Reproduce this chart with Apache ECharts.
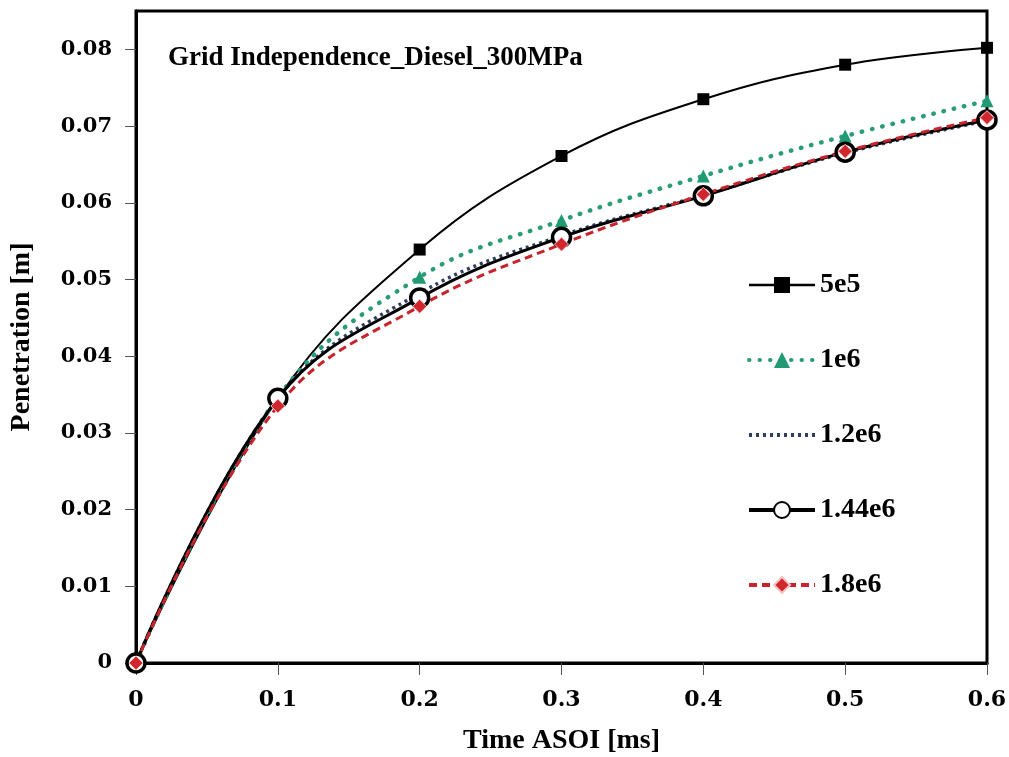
<!DOCTYPE html>
<html>
<head>
<meta charset="utf-8">
<title>Grid Independence</title>
<script src="https://cdn.jsdelivr.net/npm/echarts@6/dist/echarts.min.js"></script>
<style>
  html, body { margin: 0; padding: 0; background: #fff; }
  #main { width: 1009px; height: 757px; }
</style>
</head>
<body>
<div id="main"></div>
<script>
// time after start of injection [ms]
const timeASOI = [0, 0.1, 0.2, 0.3, 0.4, 0.5, 0.6]
// penetration [m] per mesh size
const pen5e5 = [0, 0.0345, 0.0539, 0.0661, 0.0735, 0.0780, 0.0802]
const pen1e6 = [0, 0.0346, 0.0503, 0.0577, 0.0635, 0.0687, 0.0733]
const pen12e6 = [0, 0.0345, 0.0482, 0.0557, 0.0610, 0.0665, 0.0707]
const pen144e6 = [0, 0.0345, 0.0476, 0.0555, 0.0609, 0.0666, 0.0708]
const pen18e6 = [0, 0.0335, 0.0465, 0.0546, 0.0611, 0.0667, 0.0711]
const seriesNames = ['5e5', '1e6', '1.2e6', '1.44e6', '1.8e6']
const yTicks = [0, 0.01, 0.02, 0.03, 0.04, 0.05, 0.06, 0.07, 0.08]

const serif = 'Liberation Serif'
const tickFont = 'DejaVu Serif'

function pairs (ys) {
  return timeASOI.map((x, i) => [x, ys[i]])
}

const myChart = echarts.init(document.getElementById('main'))

const option = {
  animation: false,
  title: {
    text: 'Grid Independence_Diesel_300MPa',
    left: 163,
    top: 40,
    textStyle: { fontFamily: serif, fontWeight: 'bold', fontSize: 27, color: '#000' }
  },
  grid: {
    left: 136,
    right: 22,
    top: 11,
    bottom: 94,
    outerBoundsMode: 'none',
    containLabel: false,
    show: true,
    borderColor: '#000',
    borderWidth: 3
  },
  legend: {
    orient: 'vertical',
    left: 742,
    top: 266,
    itemWidth: 66,
    itemHeight: 20,
    itemGap: 47,
    textStyle: { fontFamily: serif, fontWeight: 'bold', fontSize: 28, color: '#000' },
    data: [
      { name: '5e5', lineStyle: { width: 2.5 } },
      { name: '1e6', lineStyle: { width: 4 } },
      { name: '1.2e6', itemStyle: { opacity: 0 }, lineStyle: { width: 4 } },
      { name: '1.44e6', lineStyle: { width: 4 } },
      { name: '1.8e6', lineStyle: { width: 4 } }
    ]
  },
  xAxis: {
    type: 'value',
    min: 0,
    max: 0.6,
    interval: 0.1,
    name: 'Time ASOI [ms]',
    nameLocation: 'middle',
    nameGap: 64,
    nameTextStyle: { fontFamily: serif, fontWeight: 'bold', fontSize: 28, color: '#000' },
    axisLine: { lineStyle: { color: '#000', width: 3 } },
    axisTick: { inside: false, length: 12, lineStyle: { color: '#555', width: 1 } },
    axisLabel: { margin: 26, fontFamily: tickFont, fontWeight: 'bold', fontSize: 22, color: '#000' },
    splitLine: { show: false }
  },
  yAxis: {
    type: 'value',
    min: 0,
    max: 0.085,
    interval: 0.01,
    name: 'Penetration [m]',
    nameLocation: 'middle',
    nameGap: 100,
    nameTextStyle: { fontFamily: serif, fontWeight: 'bold', fontSize: 28, color: '#000' },
    axisLine: { lineStyle: { color: '#000', width: 3 } },
    axisTick: { inside: false, length: 11, lineStyle: { color: '#555', width: 1 }, customValues: yTicks },
    axisLabel: { margin: 24, fontFamily: tickFont, fontWeight: 'bold', fontSize: 21, color: '#000', customValues: yTicks },
    splitLine: { show: false }
  },
  series: [
    {
      name: seriesNames[0],
      type: 'line',
      smooth: 0.4,
      data: pairs(pen5e5),
      symbol: 'rect',
      symbolSize: 12,
      itemStyle: { color: '#000' },
      lineStyle: { color: '#000', width: 2 }
    },
    {
      name: seriesNames[1],
      type: 'line',
      smooth: 0.4,
      data: pairs(pen1e6),
      symbol: 'triangle',
      symbolSize: 13,
      itemStyle: { color: '#1f9a72' },
      lineStyle: { color: '#2a9d78', width: 4.5, type: [0.5, 10], cap: 'round' }
    },
    {
      name: seriesNames[2],
      type: 'line',
      smooth: 0.4,
      data: pairs(pen12e6),
      symbol: 'none',
      itemStyle: { color: '#2f3f5f', opacity: 0 },
      lineStyle: { color: '#2f3f5f', width: 3.5, type: [3, 4] }
    },
    {
      name: seriesNames[3],
      type: 'line',
      smooth: 0.4,
      data: pairs(pen144e6),
      symbol: 'circle',
      symbolSize: 18,
      itemStyle: { color: '#fff', borderColor: '#000', borderWidth: 3.5 },
      lineStyle: { color: '#000', width: 3 }
    },
    {
      name: seriesNames[4],
      type: 'line',
      smooth: 0.4,
      data: pairs(pen18e6),
      symbol: 'diamond',
      symbolSize: 14,
      itemStyle: { color: '#d0262e', borderColor: '#f4c4c4', borderWidth: 1 },
      lineStyle: { color: '#c8242c', width: 3, type: [8, 5] }
    }
  ]
}

myChart.setOption(option)
</script>
</body>
</html>
